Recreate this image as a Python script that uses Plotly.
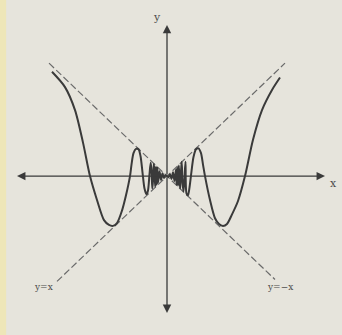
import plotly.graph_objects as go

# curve points (x, y in the units of the y=x / y=-x guide lines)
curve_x = [-11.5, -10.2, -9.2, -8.4, -7.7, -7.0, -6.3, -5.8, -5.4, -5.0, -4.5, -4.1, -3.7,
           -3.55, -3.35, -3.1, -2.85, -2.65, -2.45, -2.25, -2.05, -1.9,
           -1.75, -1.63, -1.55, -1.47, -1.4, -1.32, -1.25, -1.18, -1.1, -1.03, -0.96, -0.9,
           -0.75, -0.6, -0.45, -0.3, -0.15, 0.0,
           0.15, 0.3, 0.45, 0.6, 0.75,
           0.9, 0.96, 1.03, 1.1, 1.18, 1.25, 1.32, 1.4, 1.47, 1.55, 1.65, 1.75, 1.85,
           1.95, 2.1, 2.25, 2.45, 2.65, 2.9, 3.15, 3.4, 3.6, 3.8, 4.3, 4.8, 5.2, 5.6, 6.0,
           6.5, 7.1, 7.8, 8.6, 9.5, 10.5, 11.3]
curve_y = [10.9, 9.3, 6.9, 3.5, 0.0, -2.5, -4.6, -5.1, -5.2, -4.9, -3.6, -2.0, 0.0,
           1.2, 2.4, 2.85, 2.8, 2.1, 0.4, -1.3, -1.9, -1.5,
           0.2, 1.4, 0.6, -1.3, -0.5, 1.3, 0.4, -1.1, 1.0, -0.9, 0.9, -0.7,
           0.5, -0.4, 0.3, -0.2, 0.1, 0.0,
           -0.1, 0.2, -0.3, 0.4, -0.5,
           0.7, -0.9, 0.9, -1.0, 1.1, -0.4, -1.3, 0.5, 1.5, -0.6, -1.6, -0.2, 1.5,
           -1.8, -2.0, -1.2, 0.5, 2.0, 2.8, 2.9, 2.4, 1.2, 0.0, -2.5, -4.4, -5.0, -5.2, -5.0,
           -4.0, -2.6, 0.0, 3.8, 6.9, 9.0, 10.3]

# guide lines y = x and y = -x
line_pos_x = [-11.0, 11.8]
line_neg_x = [-11.8, 10.8]

# axis extents
x_axis = [-15.0, 15.8]
y_axis = [-14.3, 15.8]

ink = "#3a3a3a"
font = dict(family="DejaVu Serif", size=11, color="#4a4a4a")

fig = go.Figure()

fig.add_trace(go.Scatter(x=line_pos_x, y=line_pos_x, mode="lines",
                         line=dict(color="#6a6a6a", width=1.2, dash="7px,3px"),
                         showlegend=False, hoverinfo="skip"))
fig.add_trace(go.Scatter(x=line_neg_x, y=[-v for v in line_neg_x], mode="lines",
                         line=dict(color="#6a6a6a", width=1.2, dash="7px,3px"),
                         showlegend=False, hoverinfo="skip"))
fig.add_trace(go.Scatter(x=curve_x, y=curve_y, mode="lines",
                         line=dict(color=ink, width=2, shape="spline", smoothing=0.8),
                         showlegend=False, hoverinfo="skip"))

# axes drawn as arrows from the origin
for ex, ey in [(x_axis[0], 0), (x_axis[1], 0), (0, y_axis[0]), (0, y_axis[1])]:
    fig.add_annotation(x=ex, y=ey, ax=0, ay=0, xref="x", yref="y", axref="x", ayref="y",
                       showarrow=True, arrowhead=2, arrowsize=1.3, arrowwidth=1.3,
                       arrowcolor=ink, text="")

fig.add_annotation(x=-1.0, y=16.6, text="y", showarrow=False, font=font)
fig.add_annotation(x=16.6, y=-0.8, text="x", showarrow=False, font=font)
fig.add_annotation(x=-12.4, y=-11.6, text="y=x", showarrow=False, font=dict(font, size=9))
fig.add_annotation(x=11.3, y=-11.6, text="y=−x", showarrow=False, font=dict(font, size=9))

fig.update_layout(
    width=342, height=335,
    margin=dict(l=0, r=0, t=0, b=0),
    paper_bgcolor="#e6e4dc",
    plot_bgcolor="#e6e4dc",
    xaxis=dict(range=[-16.7, 17.5], visible=False),
    yaxis=dict(range=[-16.6, 18.4], visible=False),
    shapes=[dict(type="rect", xref="paper", yref="paper", x0=0, x1=0.018, y0=0, y1=1,
                 fillcolor="#eee6b8", line_width=0, layer="below")],
)

# drop the page's default body margin so the figure sits at the window corner
fig.write_html("out.html", config={"displayModeBar": False},
               post_script="document.body.style.margin='0';")
